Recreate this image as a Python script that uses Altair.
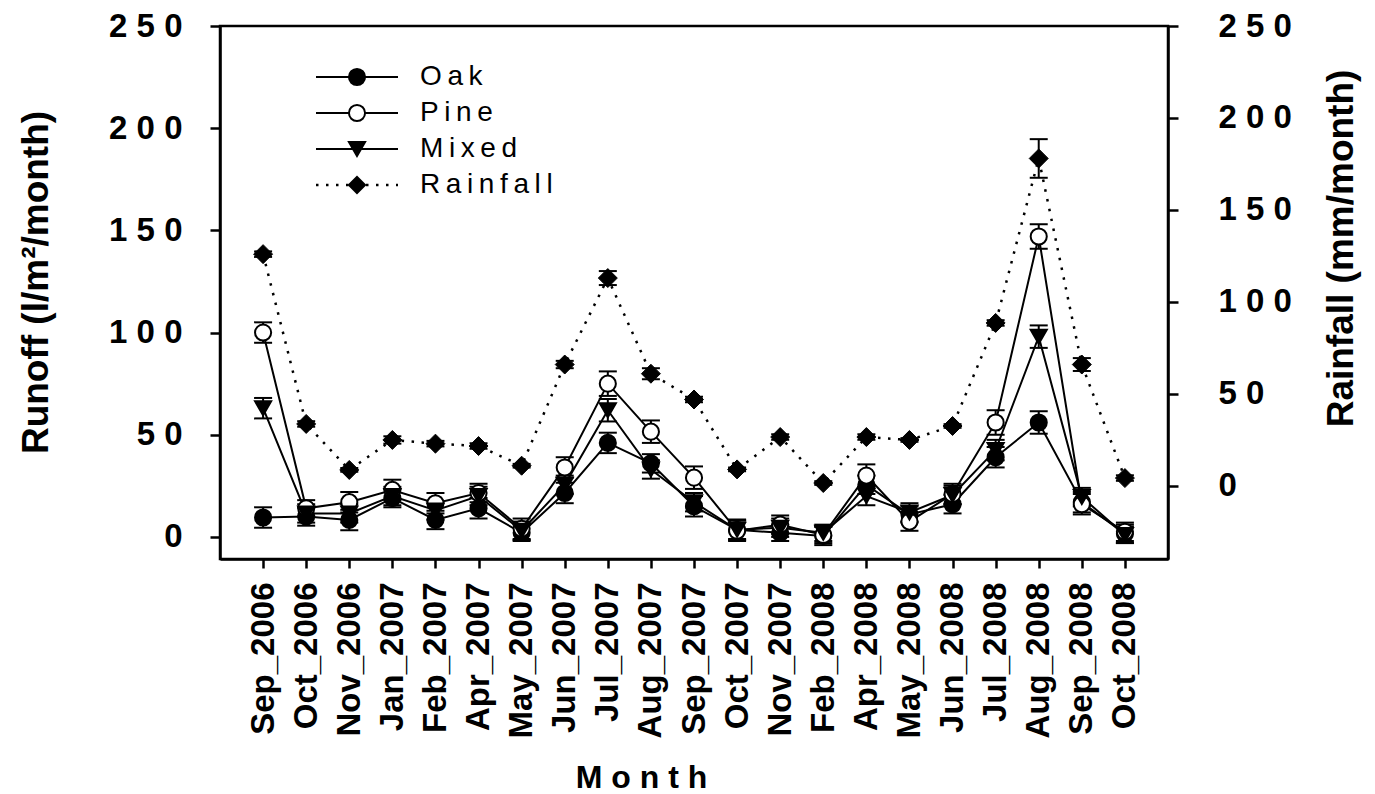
import altair as alt
import pandas as pd

months = ["Sep_2006", "Oct_2006", "Nov_2006", "Jan_2007", "Feb_2007", "Apr_2007",
          "May_2007", "Jun_2007", "Jul_2007", "Aug_2007", "Sep_2007", "Oct_2007",
          "Nov_2007", "Feb_2008", "Apr_2008", "May_2008", "Jun_2008", "Jul_2008",
          "Aug_2008", "Sep_2008", "Oct_2008"]

oak = [9.5, 10, 8.3, 19, 8.3, 14, 2, 21.5, 46, 36, 15, 3.5, 2, 0.5, 25.5, 11, 16, 39, 56, 17, 1.5]
pine = [100, 14, 17, 23, 16.5, 21.5, 4, 34, 75, 51.5, 29, 3, 6, 1, 30, 7.5, 21, 56, 147, 16, 2.5]
mixed = [63, 11.5, 11.5, 20, 13, 20, 3, 25.5, 62, 33, 17, 3.5, 4.5, 2, 20, 12, 20.5, 42.5, 98, 19.5, 1]
rain = [126, 33.7, 8.7, 25, 23, 21.7, 11, 66, 113, 61, 47, 9, 26.6, 1.6, 26.6, 25, 32.6, 88.6, 178, 66, 4.3]

oak_err = [5, 4.5, 5, 4.5, 4.5, 5, 4, 5, 5, 4.5, 5, 5, 4, 4.5, 4.5, 4, 4.5, 5, 5.5, 5, 4.5]
pine_err = [5, 4, 5, 5, 5, 4.5, 5, 5, 6, 5.5, 5.5, 5, 4.5, 4, 5.5, 4.5, 5, 6, 6, 5, 4.5]
mixed_err = [5, 4.5, 4.5, 4.5, 4.5, 4.5, 4.5, 4.5, 5.5, 4.5, 4.5, 4.5, 4.5, 4, 4.5, 4.5, 4.5, 5, 5.5, 4.5, 4]
rain_err = [1.5, 1.5, 1, 2, 1.5, 1.5, 1, 2, 3.8, 3, 1.5, 1, 1.5, 1, 1.5, 1, 1, 1.5, 10.5, 3.5, 1.5]

series_names = ["Oak", "Pine", "Mixed", "Rainfall"]
legend_labels = ["O\u2009a\u2009k", "P\u2009i\u2009n\u2009e", "M\u2009i\u2009x\u2009e\u2009d",
                 "R\u2009a\u2009i\u2009n\u2009f\u2009a\u2009l\u2009l"]

FONT = "Liberation Sans"

rows = []
for name, vals, errs in [("Oak", oak, oak_err), ("Pine", pine, pine_err), ("Mixed", mixed, mixed_err)]:
    for i, m in enumerate(months):
        rows.append(dict(month=m, order=i, series=name, value=vals[i],
                         lo=vals[i] - errs[i], hi=vals[i] + errs[i]))
runoff_df = pd.DataFrame(rows)

rain_df = pd.DataFrame(dict(month=months, order=list(range(len(months))),
                            series="Rainfall", value=rain,
                            lo=[r - e for r, e in zip(rain, rain_err)],
                            hi=[r + e for r, e in zip(rain, rain_err)]))

legend_df = pd.DataFrame(dict(series=series_names, label=legend_labels,
                              ly=[51, 87, 123, 159]))

shape_scale = alt.Scale(domain=series_names, range=["circle", "circle", "triangle-down", "diamond"])
fill_scale = alt.Scale(domain=series_names, range=["black", "white", "black", "black"])

x_enc = alt.X("month:N", sort=months,
              scale=alt.Scale(type="point", padding=1),
              axis=alt.Axis(title="M o n t h", labelAngle=270, tickSize=9, labelPadding=14,
                            labelFontSize=33, labelFontWeight="bold",
                            titleFontSize=32, titleX=421, titleY=218,
                            titleAlign="center", titleBaseline="middle"))

spaced = "join(split(datum.label, ''), ' ')"

y_left = alt.Scale(domain=[-10.8, 250], nice=False, zero=False)
y_right = alt.Scale(domain=[-39.7, 250], nice=False, zero=False)

left_axis = alt.Axis(orient="left", values=[0, 50, 100, 150, 200, 250], labelExpr=spaced,
                     labelPadding=28, labelFontSize=33,
                     title="Runoff (l/m\u00b2/month)", titleFontSize=37,
                     titleAngle=270, titleX=-173, titleY=256, titleAlign="center",
                     titleBaseline="alphabetic")
right_axis = alt.Axis(orient="right", values=[0, 50, 100, 150, 200, 250], labelExpr=spaced,
                      labelPadding=40, labelAlign="left", labelFontSize=33,
                      title="Rainfall (mm/month)",
                      titleFontSize=37, titleAngle=270, titleX=184, titleY=222,
                      titleAlign="center", titleBaseline="alphabetic")

# Runoff layer
rb = alt.Chart(runoff_df)
r_err = rb.mark_rule(color="black", strokeWidth=2).encode(
    x=x_enc, y=alt.Y("lo:Q", scale=y_left, axis=left_axis), y2="hi:Q")
r_cap_lo = rb.mark_tick(color="black", thickness=2, size=18, orient="horizontal", opacity=1).encode(
    x=x_enc, y=alt.Y("lo:Q", scale=y_left, axis=left_axis))
r_cap_hi = rb.mark_tick(color="black", thickness=2, size=18, orient="horizontal", opacity=1).encode(
    x=x_enc, y=alt.Y("hi:Q", scale=y_left, axis=left_axis))
r_line = rb.mark_line(color="black", strokeWidth=2).encode(
    x=x_enc, y=alt.Y("value:Q", scale=y_left, axis=left_axis),
    detail="series:N", order="order:Q")
r_pts = rb.mark_point(stroke="black", strokeWidth=2, size=260, opacity=1, fillOpacity=1).encode(
    x=x_enc, y=alt.Y("value:Q", scale=y_left, axis=left_axis),
    shape=alt.Shape("series:N", scale=shape_scale, legend=None),
    fill=alt.Fill("series:N", scale=fill_scale, legend=None))
runoff_layer = alt.layer(r_err, r_cap_lo, r_cap_hi, r_line, r_pts)

# Rainfall layer
wb = alt.Chart(rain_df)
w_err = wb.mark_rule(color="black", strokeWidth=2).encode(
    x=x_enc, y=alt.Y("lo:Q", scale=y_right, axis=right_axis), y2="hi:Q")
w_cap_lo = wb.mark_tick(color="black", thickness=2, size=18, orient="horizontal", opacity=1).encode(
    x=x_enc, y=alt.Y("lo:Q", scale=y_right, axis=right_axis))
w_cap_hi = wb.mark_tick(color="black", thickness=2, size=18, orient="horizontal", opacity=1).encode(
    x=x_enc, y=alt.Y("hi:Q", scale=y_right, axis=right_axis))
w_line = wb.mark_line(color="black", strokeWidth=2.5, strokeDash=[2.5, 7.5]).encode(
    x=x_enc, y=alt.Y("value:Q", scale=y_right, axis=right_axis), order="order:Q")
w_pts = wb.mark_point(stroke="black", strokeWidth=1, size=360, opacity=1, fillOpacity=1).encode(
    x=x_enc, y=alt.Y("value:Q", scale=y_right, axis=right_axis),
    shape=alt.Shape("series:N", scale=shape_scale, legend=None),
    fill=alt.Fill("series:N", scale=fill_scale, legend=None))
rain_layer = alt.layer(w_err, w_cap_lo, w_cap_hi, w_line, w_pts)

# Legend layer (pixel positions inside plot area)
lb = alt.Chart(legend_df)
ly = alt.Y("ly:Q", scale=None, axis=None)
l_solid = lb.transform_filter("datum.series != 'Rainfall'").mark_rule(color="black", strokeWidth=2).encode(
    x=alt.value(96), x2=alt.value(178), y=ly)
l_dot = lb.transform_filter("datum.series == 'Rainfall'").mark_rule(
    color="black", strokeWidth=2.5, strokeDash=[2.5, 7.5]).encode(
    x=alt.value(96), x2=alt.value(178), y=ly)
l_pts = lb.mark_point(stroke="black", strokeWidth=2, size=260, opacity=1, fillOpacity=1).encode(
    x=alt.value(137), y=ly,
    shape=alt.Shape("series:N", scale=shape_scale, legend=None),
    fill=alt.Fill("series:N", scale=fill_scale, legend=None))
l_text = lb.mark_text(align="left", baseline="middle", font=FONT, fontSize=28,
                      color="black").encode(x=alt.value(200), y=ly, text="label:N")
legend_layer = alt.layer(l_solid, l_dot, l_pts, l_text)

chart = alt.layer(runoff_layer, rain_layer, legend_layer).resolve_scale(
    y="independent"
).properties(
    width=948, height=533,
    autosize=alt.AutoSizeParams(type="none"),
    padding={"left": 220, "top": 26, "right": 207, "bottom": 235},
    background="white",
).configure_view(
    stroke="black", strokeWidth=2.5
).configure_axis(
    domainColor="black", domainWidth=2.5, tickColor="black", tickWidth=2.5, tickSize=10,
    labelFont=FONT, labelFontSize=32, labelFontWeight="bold", labelColor="black",
    titleFont=FONT, titleFontWeight="bold", titleColor="black", grid=False
)

chart.save("out.html", embed_options={"renderer": "svg", "actions": False})
